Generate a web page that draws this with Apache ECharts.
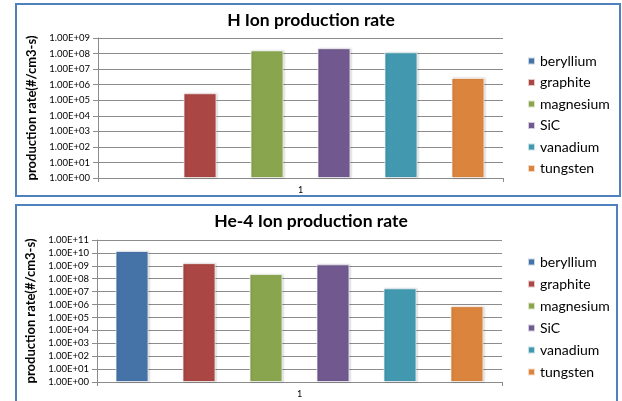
<!DOCTYPE html>
<html>
<head>
<meta charset="utf-8">
<script src="https://cdn.jsdelivr.net/npm/echarts@6/dist/echarts.min.js"></script>
<style>
  html, body { margin: 0; padding: 0; background: #fff; }
  #chart { width: 622px; height: 401px; }
</style>
</head>
<body>
<div id="chart"></div>
<script>
// Materials and ion production rates (#/cm3-s)
const categories = ['1'];
const materials = ['beryllium', 'graphite', 'magnesium', 'SiC', 'vanadium', 'tungsten'];
const colors = ['#4572A7', '#AA4643', '#89A54E', '#71588F', '#4198AF', '#DB843D'];
const hIonRate = [null, 2.8e5, 1.6e8, 2.2e8, 1.2e8, 2.7e6];
const he4IonRate = [1.4e10, 1.6e9, 2.3e8, 1.3e9, 1.8e7, 7.5e5];
const panelTitles = ['H Ion production rate', 'He-4 Ion production rate'];
const yAxisTitle = 'production rate(#/cm3-s)';

const FONT = 'Lato, "Open Sans", sans-serif';
const gridLine = '#8c8c8c';

function sciLabel(v) {
  const e = Math.round(Math.log10(v));
  return '1.00E+' + (e < 10 ? '0' + e : String(e));
}

const chart = echarts.init(document.getElementById('chart'), null, { renderer: 'canvas' });

function yAxis(gridIndex, max) {
  return {
    type: 'log', logBase: 10, gridIndex, min: 1, max, interval: 1,
    name: yAxisTitle, nameLocation: 'middle', nameGap: 60,
    nameTextStyle: { fontFamily: FONT, fontWeight: 'bold', fontSize: 13, color: '#000' },
    axisLine: { show: true, lineStyle: { color: gridLine } },
    axisTick: { show: true, length: 5, lineStyle: { color: gridLine } },
    axisLabel: { formatter: sciLabel, fontFamily: FONT, fontSize: 9.5, color: '#000', margin: 8 },
    splitLine: { show: true, lineStyle: { color: gridLine, width: 1 } },
    minorTick: { show: false }
  };
}

function xAxis(gridIndex) {
  return {
    type: 'category', gridIndex, data: categories,
    axisLine: { show: true, lineStyle: { color: gridLine } },
    axisTick: { show: true, length: 4, lineStyle: { color: gridLine } },
    axisLabel: { fontFamily: FONT, fontSize: 9, color: '#000', margin: 8 },
    splitLine: { show: false }
  };
}

function barSeries(values, idx) {
  return materials.map((m, i) => ({
    name: m, type: 'bar', xAxisIndex: idx, yAxisIndex: idx,
    data: [values[i] == null ? '-' : values[i]],
    barWidth: 33, barGap: '103%',
    itemStyle: {
      color: colors[i],
      borderColor: 'rgba(255,255,255,0.7)', borderWidth: 1,
      shadowColor: 'rgba(0,0,0,0.18)', shadowBlur: 2, shadowOffsetX: 1, shadowOffsetY: 0
    }
  }));
}

function legend(top, gap) {
  return {
    orient: 'vertical', left: 522, top,
    data: materials, itemWidth: 7, itemHeight: 7, itemGap: gap, icon: 'rect',
    textStyle: { fontFamily: FONT, fontSize: 14, color: '#000' },
    selectedMode: false
  };
}

const titleStyle = { fontFamily: FONT, fontWeight: 'bold', fontSize: 17.5, color: '#000' };

const option = {
  backgroundColor: '#fff',
  animation: false,
  color: colors,
  title: [
    { text: panelTitles[0], left: 'center', top: 6, textStyle: titleStyle },
    { text: panelTitles[1], left: 'center', top: 207, textStyle: titleStyle }
  ],
  legend: [legend(49, 7.5), legend(250, 8)],
  grid: [
    { left: 98, top: 38, width: 405, height: 140 },
    { left: 97, top: 240, width: 405, height: 142 }
  ],
  xAxis: [xAxis(0), xAxis(1)],
  yAxis: [yAxis(0, 1e9), yAxis(1, 1e11)],
  series: [...barSeries(hIonRate, 0), ...barSeries(he4IonRate, 1)],
  graphic: [
    { type: 'rect', shape: { x: 16, y: 4, width: 604, height: 192 },
      style: { fill: 'none', stroke: '#4F81BD', lineWidth: 2 }, silent: true },
    { type: 'rect', shape: { x: 16, y: 205, width: 601, height: 210 },
      style: { fill: 'none', stroke: '#4F81BD', lineWidth: 2 }, silent: true }
  ]
};

chart.setOption(option);
</script>
</body>
</html>
